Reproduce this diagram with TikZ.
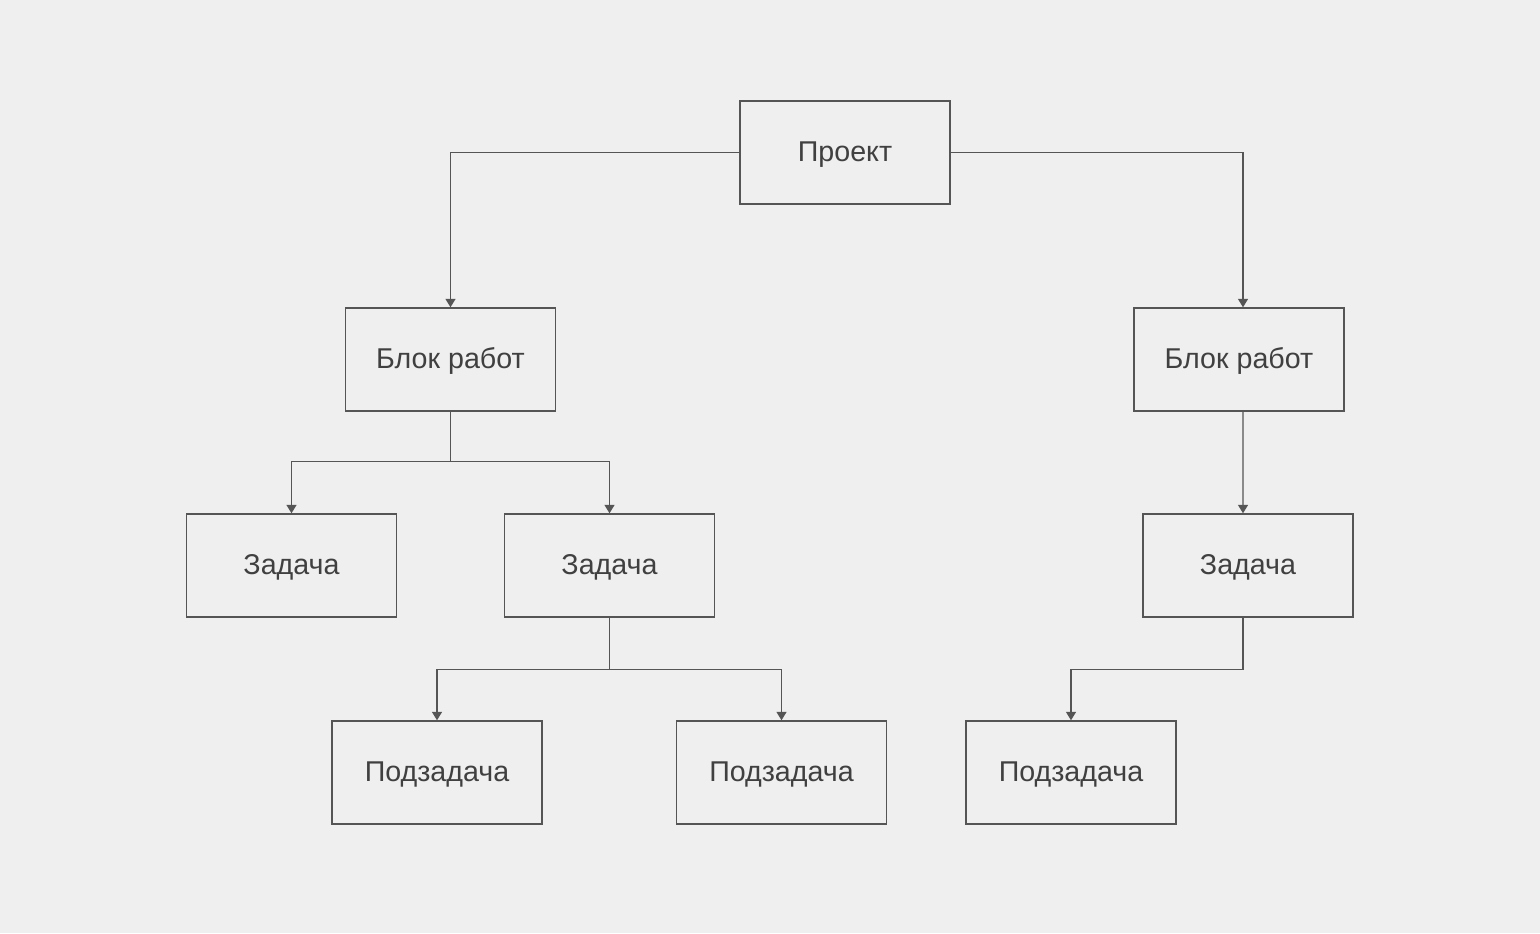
\documentclass[tikz,border=0pt]{standalone}
\usepackage{fontspec}
\setmainfont{Liberation Sans}
\usepackage{xcolor}
\usetikzlibrary{positioning,arrows.meta}
\definecolor{bgcol}{HTML}{EFEFEF}
\definecolor{linecol}{HTML}{555555}
\definecolor{txtcol}{HTML}{404040}

\begin{document}
\begin{tikzpicture}[x=0.02cm,y=-0.02cm,>={Triangle[width=0.2cm,length=0.17cm]},
	link/.style={->,draw=linecol,line width=0.75pt},
	box/.style={rectangle,draw=linecol,line width=0.8pt,minimum width=4.2cm,minimum height=2.06cm,inner sep=0pt,text height=1em,text depth=0pt,text=txtcol,font=\fontsize{16.3pt}{18pt}\selectfont}]
		\fill[bgcol] (0,0) rectangle (1540,933);
		\useasboundingbox (0,0) rectangle (1540,933);
	
		\node[box] (proj) at (845,152.5) {Проект};
		\node[box] (blockL) at (450.5,359.5) {Блок работ};
		\node[box] (blockR) at (1239,359.5) {Блок работ};
		\node[box] (taskA) at (291.5,565.5) {Задача};
		\node[box] (taskB) at (609.5,565.5) {Задача};
		\node[box] (taskC) at (1248,565.5) {Задача};
		\node[box] (subA) at (437,772.5) {Подзадача};
		\node[box] (subB) at (781.5,772.5) {Подзадача};
		\node[box] (subC) at (1071,772.5) {Подзадача};
	
		\draw[link] (proj.west) -| (blockL.north);
		\draw[link] (proj.east) -| ([xshift=0.08cm]blockR.north);
		\draw[link] (blockL.south) -- ++(0,50) -| (taskA.north);
		\draw[link] (blockL.south) -- ++(0,50) -| (taskB.north);
		\draw[link] ([xshift=0.08cm]blockR.south) -- ([xshift=-0.1cm]taskC.north);
		\draw[link] (taskB.south) -- ++(0,52) -| (subA.north);
		\draw[link] (taskB.south) -- ++(0,52) -| (subB.north);
		\draw[link] ([xshift=-0.1cm]taskC.south) -- ++(0,52) -| (subC.north);
		\end{tikzpicture}
\end{document}
